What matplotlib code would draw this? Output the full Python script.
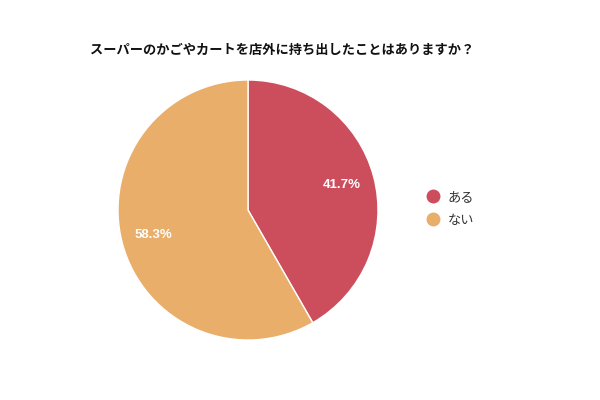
import matplotlib.pyplot as plt
from matplotlib.lines import Line2D

plt.rcParams['font.family'] = ['Noto Sans CJK JP', 'DejaVu Sans']

# data
title = 'スーパーのかごやカートを店外に持ち出したことはありますか？'
labels = ['ある', 'ない']
values = [41.7, 58.3]
colors = ['#CC4E5C', '#E9AE6A']

fig = plt.figure(figsize=(6, 4), dpi=100)
fig.patch.set_facecolor('white')

# pie axes: center (248,210), radius 130 px
ax = fig.add_axes([(248 - 130) / 600, 1 - (210 + 130) / 400, 260 / 600, 260 / 400])
wedges, texts, autotexts = ax.pie(
    values, colors=colors, startangle=90, counterclock=False,
    autopct='%.1f%%', pctdistance=0.75, radius=1,
    wedgeprops={'edgecolor': 'white', 'linewidth': 1},
    textprops={'color': 'white', 'fontsize': 9.5, 'fontweight': 'bold', 'family': 'Liberation Sans'})
ax.set_xlim(-1, 1)
ax.set_ylim(-1, 1)
ax.set_aspect('equal')

fig.text(90 / 600, 1 - 50 / 400, title, fontsize=9.5, fontweight='bold',
         ha='left', va='center', color='#111111')

handles = [Line2D([0], [0], marker='o', linestyle='', markersize=9,
                  markerfacecolor=c, markeredgecolor=c) for c in colors]
fig.legend(handles, labels, loc='center left', bbox_to_anchor=(408 / 600, 1 - 209 / 400),
           frameon=False, fontsize=9.5, handletextpad=0.1, labelspacing=0.75,
           labelcolor='#333333')

fig.savefig('out.png', dpi=100)
